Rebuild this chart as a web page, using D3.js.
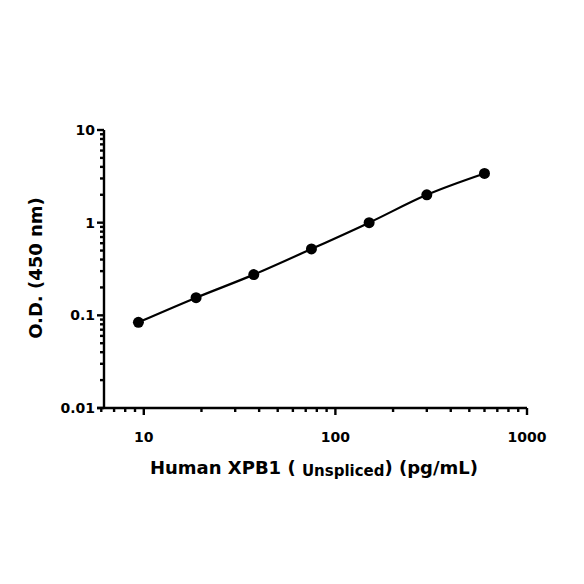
<!DOCTYPE html>
<html><head><meta charset="utf-8">
<script src="https://cdn.jsdelivr.net/npm/d3@7"></script>
<style>body{margin:0;background:#fff}</style></head>
<body><svg id="c" width="584" height="584"></svg>
<script>
const conc = [9.375, 18.75, 37.5, 75, 150, 300, 600];
const od = [0.084, 0.155, 0.275, 0.52, 1.0, 2.0, 3.4];
const xTicks = [10, 100, 1000];
const yTicks = [0.01, 0.1, 1, 10];
const yLabels = ["0.01", "0.1", "1", "10"];

const svg = d3.select("#c");
const font = "'DejaVu Sans', Verdana, sans-serif";
const x = d3.scaleLog().domain([5.7, 1000]).range([97, 527]);
const y = d3.scaleLog().domain([0.01, 10]).range([408, 130]);
const axY = 104, axX = 408;

const xMinor = [], yMinor = [];
[1, 10, 100].forEach(d => { for (let k = 2; k <= 9; k++) { const v = d * k; if (v >= 5.7 && v <= 1000) xMinor.push(v); } });
[0.01, 0.1, 1].forEach(d => { for (let k = 2; k <= 9; k++) yMinor.push(d * k); });

const g = svg.append("g").attr("stroke", "#000").attr("stroke-width", 2.4);
g.append("line").attr("x1", x(5.7)).attr("x2", x(1000)).attr("y1", axX).attr("y2", axX);
g.append("line").attr("x1", axY).attr("x2", axY).attr("y1", y(0.01)).attr("y2", y(10));
g.selectAll(".xm").data(xMinor).join("line").attr("x1", d => x(d)).attr("x2", d => x(d)).attr("y1", axX).attr("y2", axX + 4);
g.selectAll(".xM").data(xTicks).join("line").attr("x1", d => x(d)).attr("x2", d => x(d)).attr("y1", axX).attr("y2", axX + 7);
g.selectAll(".ym").data(yMinor).join("line").attr("y1", d => y(d)).attr("y2", d => y(d)).attr("x1", axY).attr("x2", axY - 4);
g.selectAll(".yM").data(yTicks).join("line").attr("y1", d => y(d)).attr("y2", d => y(d)).attr("x1", axY).attr("x2", axY - 7);

svg.selectAll(".xl").data(xTicks).join("text").attr("x", d => x(d)).attr("y", 442)
  .attr("text-anchor", "middle").attr("font-family", font).attr("font-weight", "bold").attr("font-size", 14).text(d => d);
svg.selectAll(".yl").data(yTicks).join("text").attr("x", axY - 9).attr("y", d => y(d) + 5)
  .attr("text-anchor", "end").attr("font-family", font).attr("font-weight", "bold").attr("font-size", 14).text((d, i) => yLabels[i]);

const xt = svg.append("text").attr("x", 314).attr("y", 474).attr("text-anchor", "middle")
  .attr("font-family", font).attr("font-weight", "bold").attr("font-size", 18);
xt.append("tspan").text("Human XPB1 ( ");
xt.append("tspan").attr("font-size", 15).attr("dy", 2).text("Unspliced");
xt.append("tspan").attr("dy", -2).text(") (pg/mL)");

svg.append("text").attr("transform", "translate(42,268) rotate(-90)").attr("text-anchor", "middle")
  .attr("font-family", font).attr("font-weight", "bold").attr("font-size", 18).text("O.D. (450 nm)");

const pts = conc.map((c, i) => [c, od[i]]);
svg.append("path").datum(pts).attr("fill", "none").attr("stroke", "#000").attr("stroke-width", 2.2)
  .attr("d", d3.line().x(d => x(d[0])).y(d => y(d[1])).curve(d3.curveMonotoneX));
svg.selectAll(".pt").data(pts).join("circle").attr("cx", d => x(d[0])).attr("cy", d => y(d[1])).attr("r", 5.5).attr("fill", "#000");
</script></body></html>
